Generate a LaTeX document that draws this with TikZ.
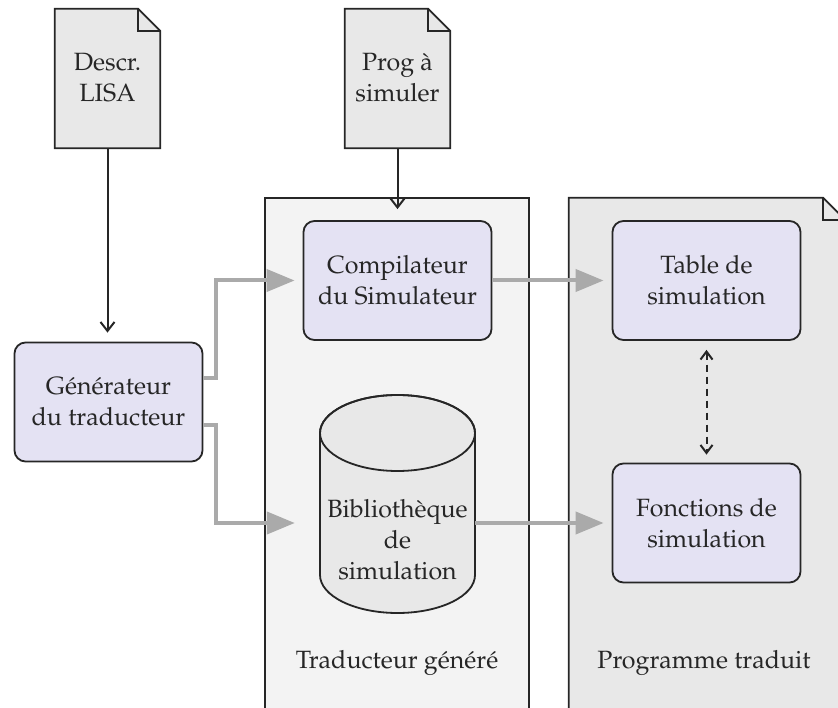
\documentclass[tikz,border=0pt]{standalone}
\usepackage[T1]{fontenc}
\usepackage{mathpazo}
\usetikzlibrary{arrows.meta}

\definecolor{inkline}{HTML}{262626}
\definecolor{lavender}{HTML}{E4E2F3}
\definecolor{paperfill}{HTML}{E8E8E8}
\definecolor{lightpanel}{HTML}{F3F3F3}
\definecolor{flowgray}{HTML}{AAAAAA}

% folded-corner outline around a node
\newcommand\dogear[3]{%
  \filldraw[fill=#2, draw=inkline, line width=1.8pt, line join=miter]
    (#1.north west) -- ([xshift=-#3]#1.north east) -- ([yshift=-#3]#1.north east)
    -- (#1.south east) -- (#1.south west) -- cycle;
  \draw[inkline, line width=1.8pt]
    ([xshift=-#3]#1.north east) |- ([yshift=-#3]#1.north east);
}

\begin{document}
\begin{tikzpicture}[x=1pt, y=-1pt,
  every node/.style={font=\fontsize{25}{31}\selectfont, text=inkline},
  area/.style={draw=none, inner sep=0pt},
  proc/.style={draw=inkline, fill=lavender, line width=1.8pt, rounded corners=11pt,
    minimum width=188pt, minimum height=119pt, align=center, inner sep=0pt},
  doctext/.style={area, align=center, minimum width=105pt, minimum height=139pt},
  flow/.style={flowgray, line width=4pt, -{Triangle[length=28pt,width=22pt]}},
  ctrl/.style={inkline, line width=2pt, -{Straight Barb[length=9pt,width=14pt]}},
  link/.style={inkline, line width=2pt, dash pattern=on 7pt off 5pt,
    {Straight Barb[length=8pt,width=12pt]}-{Straight Barb[length=8pt,width=12pt]}}
]
\useasboundingbox (0,0) rectangle (838,708);
\clip (0,0) rectangle (838,708);

% panels
\node[area, minimum width=264pt, minimum height=530pt] (trad) at (397,463) {};
\filldraw[fill=lightpanel, draw=inkline, line width=1.8pt] (trad.north west) rectangle (trad.south east);
\node[area, minimum width=276pt, minimum height=530pt] (prog) at (707,463) {};
\dogear{prog}{paperfill}{22pt}
\node (tradlabel) at (397,663) {Traducteur g\'en\'er\'e};
\node (proglabel) at (704,663) {Programme traduit};

% input documents
\node[doctext] (descr) at (107.5,78.5) {};
\dogear{descr}{paperfill}{22pt}
\node[align=center] (descrtext) at (107.5,78) {Descr.\\LISA};
\node[doctext] (src) at (397.5,78.5) {};
\dogear{src}{paperfill}{22pt}
\node[align=center] (srctext) at (397.5,78) {Prog \`a\\simuler};

% processing boxes
\node[proc] (gen) at (108.5,402) {G\'en\'erateur\\du traducteur};
\node[proc] (comp) at (397.5,280.5) {Compilateur\\du Simulateur};
\node[proc] (table) at (706.5,280.5) {Table de\\simulation};
\node[proc] (fonc) at (706.5,523) {Fonctions de\\simulation};

% library cylinder
\node[area, minimum width=155pt, minimum height=218pt] (lib) at (397.5,504) {};
\filldraw[fill=paperfill, draw=inkline, line width=1.8pt]
  (320,433) -- (320,575) arc[start angle=180, end angle=360, x radius=77.5, y radius=-38]
  -- (475,433) arc[start angle=0, end angle=180, x radius=77.5, y radius=-38] -- cycle;
\draw[inkline, line width=1.8pt] (397.5,433) ellipse[x radius=77.5, y radius=38];
\node[align=center] (libtext) at (397.5,540) {Biblioth\`eque\\de\\simulation};

% connectors
\draw[ctrl, shorten >=9pt] (descr.south) -- (descr.south |- gen.north);
\draw[ctrl, shorten >=11pt] (src.south) -- (src.south |- comp.north);
\draw[flow, shorten >=8pt] ([yshift=24pt]gen.east) -- ++(13,0) |- (comp.west);
\draw[flow, shorten >=25pt] ([yshift=-23pt]gen.east) -- ++(13,0) |- (lib.west |- fonc.west);
\draw[flow, shorten >=8pt] (comp.east) -- (table.west);
\draw[flow, shorten >=8pt] (lib.east |- fonc.west) -- (fonc.west);
\draw[link, shorten <=9pt, shorten >=8pt] (table.south) -- (fonc.north);
\end{tikzpicture}
\end{document}
